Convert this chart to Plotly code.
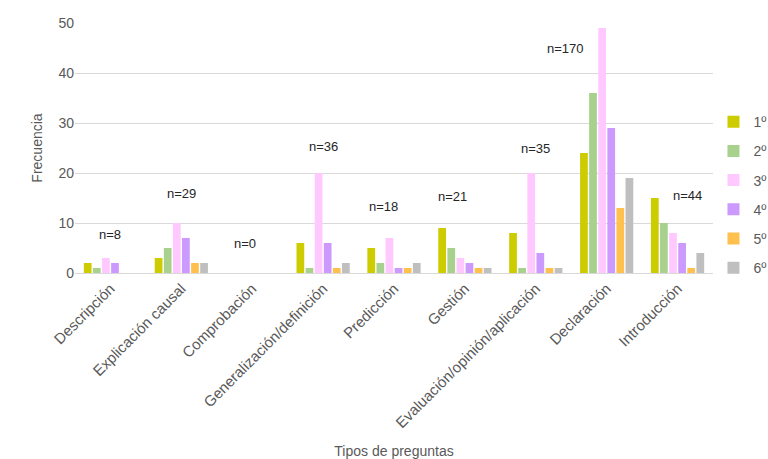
import plotly.graph_objects as go

categories = ["Descripción", "Explicación causal", "Comprobación", "Generalización/definición",
              "Predicción", "Gestión", "Evaluación/opinión/aplicación", "Declaración", "Introducción"]
series_names = ["1º", "2º", "3º", "4º", "5º", "6º"]
s1 = [2, 3, 0, 6, 5, 9, 8, 24, 15]
s2 = [1, 5, 0, 1, 2, 5, 1, 36, 10]
s3 = [3, 10, 0, 20, 7, 3, 20, 49, 8]
s4 = [2, 7, 0, 6, 1, 2, 4, 29, 6]
s5 = [0, 2, 0, 1, 1, 1, 1, 13, 1]
s6 = [0, 2, 0, 2, 2, 1, 1, 19, 4]
totals = ["n=8", "n=29", "n=0", "n=36", "n=18", "n=21", "n=35", "n=170", "n=44"]
label_y = [7.8, 16, 6, 25.4, 13.4, 15.4, 25, 45, 15.6]
label_dx = [0, 0, -0.1, 0, -0.15, -0.17, 0, -0.58, 0.14]

colors = ["#CCCC00", "#A9D18E", "#FFC9FF", "#CC99FF", "#FFC04D", "#BFBFBF"]

fig = go.Figure()
for name, vals, c in zip(series_names, [s1, s2, s3, s4, s5, s6], colors):
    fig.add_trace(go.Bar(name=name, x=categories, y=vals, marker_color=c, marker_line_width=0,
                         legendgroup=name))

for i, (t, yv, dx) in enumerate(zip(totals, label_y, label_dx)):
    fig.add_annotation(x=i + dx, y=yv, text=t, showarrow=False,
                       font=dict(size=13, color="#262626", family="Liberation Sans"))

fig.update_layout(
    width=768, height=459,
    margin=dict(l=75, r=55, t=23, b=186),
    paper_bgcolor="white", plot_bgcolor="white",
    barmode="group", bargap=0.23, bargroupgap=0.15,
    font=dict(family="Liberation Sans", size=13, color="#595959"),
    legend=dict(xref="container", yref="container", x=0.929, y=0.575,
                xanchor="left", yanchor="middle",
                font=dict(size=14, color="#595959"), tracegroupgap=8,
                itemwidth=30, traceorder="grouped"),
    xaxis=dict(tickangle=-45, showline=True, linecolor="#D9D9D9", ticks="",
               tickfont=dict(size=15),
               title=dict(text="Tipos de preguntas", font=dict(size=14, color="#595959"), standoff=23),
               automargin=False),
    yaxis=dict(range=[0, 50], dtick=10, gridcolor="#D9D9D9", zeroline=False, ticks="",
               title=dict(text="Frecuencia", font=dict(size=14, color="#595959"), standoff=12),
               automargin=False, tickfont=dict(size=14)),
)

fig.write_html("out.html", config={"displayModeBar": False},
               post_script="document.body.style.margin='0';document.body.style.overflow='hidden';")
